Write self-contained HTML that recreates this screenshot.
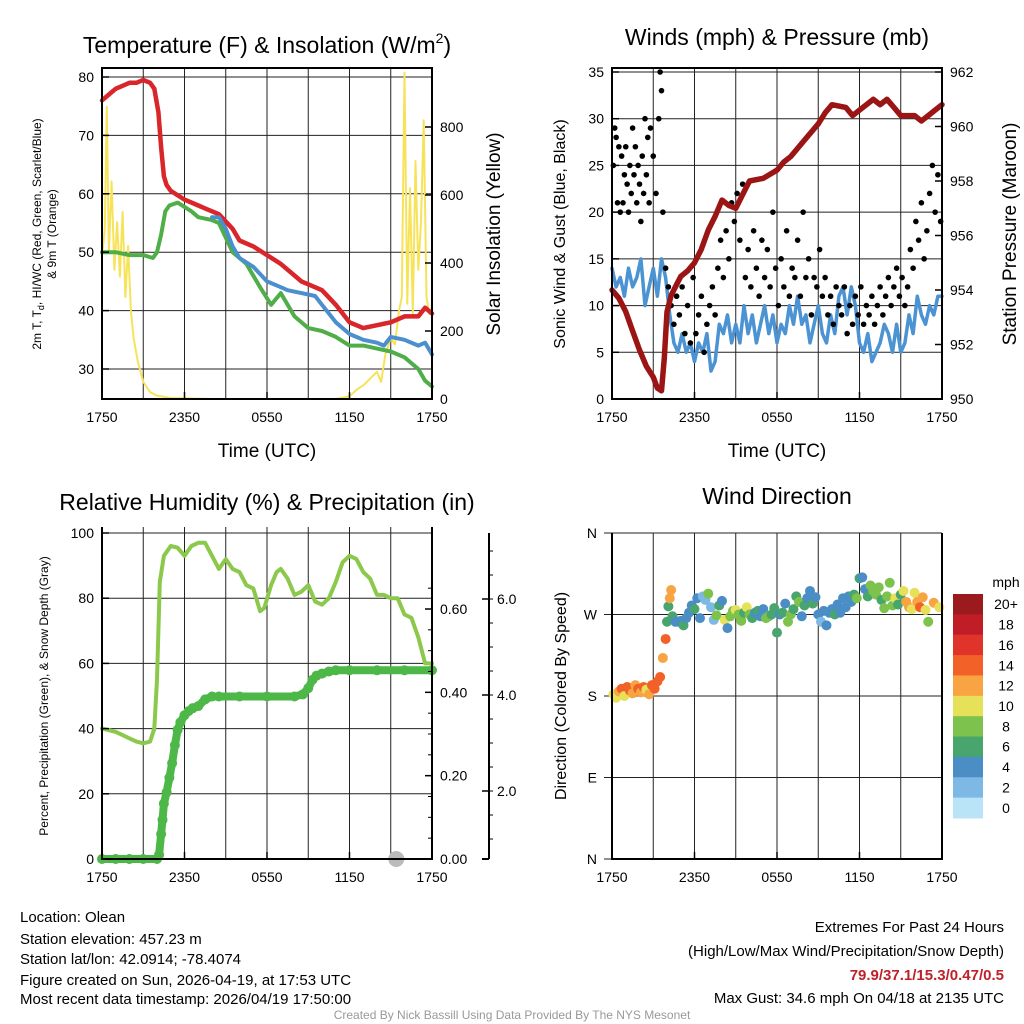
<!DOCTYPE html>
<html><head><meta charset="utf-8"><style>
body{margin:0;background:#fff;}
svg{display:block;font-family:"Liberation Sans",sans-serif;}
</style></head><body>
<svg id="c" width="1024" height="1024" viewBox="0 0 1024 1024" xmlns="http://www.w3.org/2000/svg">
<g id="g"></g>
<g font-size="23" text-anchor="middle">
<text x="267" y="53">Temperature (F) &amp; Insolation (W/m<tspan font-size="14" dy="-10">2</tspan><tspan dy="10">)</tspan></text>
<text x="777" y="45">Winds (mph) &amp; Pressure (mb)</text>
<text x="267" y="510">Relative Humidity (%) &amp; Precipitation (in)</text>
<text x="777" y="504">Wind Direction</text>
</g>
<g font-size="19" text-anchor="middle">
<text x="267" y="457">Time (UTC)</text>
<text x="777" y="457">Time (UTC)</text>
<text transform="translate(500,234) rotate(-90)">Solar Insolation (Yellow)</text>
<text transform="translate(1016,234) rotate(-90)">Station Pressure (Maroon)</text>
</g>
<g font-size="16" text-anchor="middle">
<text transform="translate(565,234) rotate(-90)">Sonic Wind &amp; Gust (Blue, Black)</text>
<text transform="translate(566,696) rotate(-90)">Direction (Colored By Speed)</text>
</g>
<g font-size="12" text-anchor="middle">
<text transform="translate(41,234) rotate(-90)">2m T, T<tspan font-size="9" dy="3">d</tspan><tspan dy="-3">, HI/WC (Red, Green, Scarlet/Blue)</tspan></text>
<text transform="translate(56,234) rotate(-90)">&amp; 9m T (Orange)</text>
<text transform="translate(48,696) rotate(-90)">Percent, Precipitation (Green), &amp; Snow Depth (Gray)</text>
</g>
<g font-size="15">
<text x="20" y="922">Location: Olean</text>
<text x="20" y="944">Station elevation: 457.23 m</text>
<text x="20" y="964">Station lat/lon: 42.0914; -78.4074</text>
<text x="20" y="985">Figure created on Sun, 2026-04-19, at 17:53 UTC</text>
<text x="20" y="1004">Most recent data timestamp: 2026/04/19 17:50:00</text>
<g text-anchor="end">
<text x="1004" y="932">Extremes For Past 24 Hours</text>
<text x="1004" y="956">(High/Low/Max Wind/Precipitation/Snow Depth)</text>
<text x="1004" y="980" fill="#c0202a" font-weight="bold">79.9/37.1/15.3/0.47/0.5</text>
<text x="1004" y="1003">Max Gust: 34.6 mph On 04/18 at 2135 UTC</text>
</g>
<text x="512" y="1019" font-size="12" fill="#999" text-anchor="middle">Created By Nick Bassill Using Data Provided By The NYS Mesonet</text>
</g>
</svg>
<script>
const xTickLabels=["1750","2350","0550","1150","1750"];
// Temperature panel
const tT=[0,0.5,1,1.5,2,2.5,3,3.5,3.8,4.1,4.3,4.5,4.7,5,6,7,7.5,8.5,9.5,10,11,12,13,13.5,14.5,15,16,17,18,19,20,21,22,23,23.5,24];
const tRed=[76,77,78,78.5,79,79,79.5,79,78,74,68,63,61.5,60.5,59,58,57.5,56.5,54,52,51,49.5,48,47,45,44.5,43.5,41,38,37,37.5,38,39,39,40.5,39.5];
const tdT=[0,1,2,3,3.7,4,4.3,4.6,4.9,5.5,6.5,7,8,8.5,9.5,10.5,11.5,12.3,13,14,15,16,17,18,19,20,21,22,23,23.5,24];
const tdGreen=[50,50,49.5,49.5,49,50,53,57,58,58.5,57,56,55.5,55,50,48,44,41,43,39,37,36.5,35.5,34,34,33.5,33,32,30,28,27];
const wcT=[8,8.5,9,9.5,10,11,12,13,13.5,14.5,15.5,16,17,18,19,20,20.5,21,22,23,23.5,24];
const wcBlue=[56,56,54,51,49,47.5,45,44,43.5,43,42.5,41,38,36,35,34.5,34,35.5,35,34,34.5,32.5];
const solT=[0,0.2,0.35,0.5,0.7,0.9,1.1,1.3,1.5,1.7,1.9,2.1,2.3,2.6,3,3.5,4,5,8,12,16,17,18,18.6,19,19.5,20,20.3,20.6,21,21.3,21.6,21.8,22,22.2,22.4,22.6,22.8,23,23.2,23.4,23.6,23.8,24];
const solar=[420,500,860,430,640,380,520,360,550,300,450,260,180,110,50,20,10,3,0,0,0,0,8,30,40,60,80,50,130,180,160,260,300,960,280,620,250,700,380,520,820,300,250,270];
const tempTicks=[30,40,50,60,70,80];
const solarTicks=[0,200,400,600,800];
// Winds panel
const wT=[0,0.3,0.6,0.9,1.2,1.5,1.8,2.1,2.4,2.7,3,3.3,3.6,3.9,4.2,4.5,4.8,5.1,5.4,5.7,6,6.3,6.6,6.9,7.2,7.5,7.8,8.1,8.4,8.7,9,9.3,9.6,9.9,10.2,10.5,10.8,11.1,11.4,11.7,12,12.3,12.6,12.9,13.2,13.5,13.8,14.1,14.4,14.7,15,15.3,15.6,15.9,16.2,16.5,16.8,17.1,17.4,17.7,18,18.3,18.6,18.9,19.2,19.5,19.8,20.1,20.4,20.7,21,21.3,21.6,21.9,22.2,22.5,22.8,23.1,23.4,23.7,24];
const wind=[14,12,13,11,14,12,13,15,10,12,14,11,15,13,9,6,5,7,5,6,4,6,5,7,3,4,8,7,9,6,8,6,10,7,9,6,8,10,7,9,6,8,7,10,8,11,8,9,6,8,10,7,6,9,7,11,12,9,12,10,6,5,7,4,5,6,8,7,5,8,5,6,9,7,11,9,8,10,9,11,11];
const gT=[0.1,0.2,0.3,0.4,0.5,0.6,0.7,0.8,0.9,1.0,1.1,1.2,1.3,1.4,1.5,1.6,1.7,1.8,1.9,2.0,2.1,2.2,2.3,2.4,2.5,2.6,2.7,2.8,3.0,3.2,3.4,3.5,3.6,3.7,3.9,4.1,4.3,4.5,4.7,4.9,5.1,5.3,5.5,5.7,5.9,6.1,6.3,6.5,6.7,6.9,7.1,7.3,7.5,7.7,7.9,8.1,8.3,8.5,8.7,8.9,9.1,9.3,9.5,9.7,9.9,10.1,10.3,10.5,10.7,10.9,11.1,11.3,11.5,11.7,11.9,12.1,12.3,12.5,12.7,12.9,13.1,13.3,13.5,13.7,13.9,14.1,14.3,14.5,14.7,14.9,15.1,15.3,15.5,15.7,15.9,16.1,16.3,16.5,16.7,16.9,17.1,17.3,17.5,17.7,17.9,18.1,18.3,18.5,18.7,18.9,19.1,19.3,19.5,19.7,19.9,20.1,20.3,20.5,20.7,20.9,21.1,21.3,21.5,21.7,21.9,22.1,22.3,22.5,22.7,22.9,23.1,23.3,23.5,23.7,23.9];
const gust=[25,29,28,21,27,20,26,21,24,27,23,20,25,22,29,24,27,21,25,23,19,26,22,30,24,28,21,29,26,22,30,35,33,20,14,12,10,8,11,9,12,7,10,6,13,7,9,11,5,8,10,12,9,14,17,13,18,15,21,19,22,17,23,13,16,12,18,14,11,17,13,16,12,20,14,10,15,12,18,11,14,13,17,11,20,13,15,9,13,12,16,11,13,9,11,8,12,10,9,12,7,10,8,11,9,12,8,10,9,11,8,10,12,9,11,13,10,12,14,11,13,10,12,16,14,19,17,21,15,18,22,25,20,24,19];
const pT=[0,0.5,1,1.5,2,2.5,3,3.3,3.6,3.8,4,4.3,4.7,5,5.5,6,6.5,7,7.5,8,8.5,9,9.5,10,11,12,12.5,13,14,15,15.5,16,17,17.5,18,19,19.5,20,20.5,21,22,22.5,23,23.5,24];
const pres=[954,953.7,953.2,952.5,951.8,951.2,950.8,950.4,950.3,951.5,953.2,953.8,954.2,954.5,954.7,955,955.5,956.2,956.7,957.3,957.1,957,957.5,958,958.1,958.4,958.7,958.9,959.5,960.1,960.5,960.8,960.7,960.4,960.6,961,960.8,961,960.7,960.4,960.4,960.2,960.4,960.6,960.8];
const windTicks=[0,5,10,15,20,25,30,35];
const presTicks=[950,952,954,956,958,960,962];
// RH panel
const rhT=[0,0.5,1,1.5,2,2.5,3,3.5,3.8,4,4.2,4.5,5,5.5,6,6.5,7,7.5,8,8.5,9,9.5,10,10.5,11,11.5,11.8,12.3,12.7,13,13.5,14,14.5,15,15.5,16,16.5,17,17.5,18,18.5,19,19.5,20,20.5,21,21.5,22,22.5,23,23.5,24];
const rh=[40,39.5,39,38,37,36,35.5,36,40,55,85,93,96,95.5,93,96,97,97,93,89,92,89,88,84,83,76,77,84,88,89,86,81,82,84,79,78,80,85,91,93,92,88,86,81,81,80,80,75,74,68,60,60];
const prT=[0,1,2,3,4,4.15,4.3,4.4,4.5,4.7,4.9,5.1,5.3,5.5,5.7,6,6.3,6.6,7,7.5,8,8.5,10,12,14,14.6,15,15.3,15.6,16,16.5,17,18,20,22,24];
const precip=[0,0,0,0,0,0.01,0.06,0.094,0.133,0.16,0.195,0.23,0.273,0.31,0.328,0.345,0.355,0.362,0.367,0.383,0.39,0.39,0.39,0.39,0.39,0.395,0.41,0.43,0.44,0.445,0.45,0.453,0.453,0.453,0.453,0.453];
const snowT=[21.4];
const snow=[0];
const rhTicks=[0,20,40,60,80,100];
const precipTicks=["0.00","0.20","0.40","0.60"];
const snowTicks=["2.0","4.0","6.0"];
// Wind direction panel
const dT=[0.1,0.3,0.5,0.7,0.9,1.1,1.3,1.5,1.7,1.9,2.1,2.3,2.5,2.7,2.9,3.1,3.3,3.5,3.7,3.9,4.0,4.1,4.2,4.3,4.4,4.6,4.8,5.0,5.2,5.4,5.6,5.8,6.0,6.2,6.4,6.6,6.8,7.0,7.2,7.4,7.6,7.8,8.0,8.2,8.4,8.6,8.8,9.0,9.2,9.4,9.6,9.8,10.0,10.2,10.4,10.6,10.8,11.0,11.2,11.4,11.6,11.8,12.0,12.2,12.4,12.6,12.8,13.0,13.2,13.4,13.6,13.8,14.0,14.2,14.4,14.6,14.8,15.0,15.2,15.4,15.6,15.8,16.0,16.2,16.4,16.6,16.8,17.0,17.2,17.4,17.6,17.8,18.0,18.2,18.4,18.6,18.8,19.0,19.2,19.4,19.6,19.8,20.0,20.2,20.4,20.6,20.8,21.0,21.2,21.4,21.6,21.8,22.0,22.2,22.4,22.6,22.8,23.0,23.4,23.8];
const dDeg=[182,178,185,188,180,190,186,183,192,188,184,190,187,182,192,188,196,201,222,243,262,279,288,297,268,262,262,263,258,266,272,280,276,288,266,290,286,293,278,264,269,280,285,264,255,268,274,275,270,263,272,278,270,266,272,274,268,276,266,268,270,277,250,270,272,282,262,270,276,290,284,268,280,288,296,282,289,270,262,274,258,272,276,270,281,272,288,278,290,284,292,288,310,311,298,290,302,296,292,300,286,277,290,305,280,288,281,292,296,284,278,276,294,284,278,289,275,262,283,278];
const dSpd=[10,10,12,14,11,15,14,12,13,15,12,14,10,12,14,15,15,14,12,14,7,7,12,12,6,4,4,5,7,4,4,4,6,4,4,2,2,8,2,2,8,7,4,10,4,8,8,10,8,8,6,10,8,6,4,6,4,4,8,8,6,6,6,4,6,4,8,8,6,6,8,4,6,4,4,6,4,4,2,4,4,4,4,6,4,4,4,4,4,4,6,8,6,4,4,6,8,8,8,8,6,8,8,8,8,10,6,6,10,12,12,10,10,12,14,12,10,8,12,10];
const dirLabels=["N","E","S","W","N"];
const cbLabels=["20+","18","16","14","12","10","8","6","4","2","0"];
const cbColors=["#9b1a1e","#c01d27","#e0342b","#f26128","#f8a443","#e7e159","#7cc24d","#48a56e","#4a8ec5","#7eb9e5","#b9e3f7"];

const NS="http://www.w3.org/2000/svg";
const G=document.getElementById('g');
function el(tag,attrs,parent){const e=document.createElementNS(NS,tag);for(const k in attrs)e.setAttribute(k,attrs[k]);(parent||G).appendChild(e);return e;}
function lin(d0,d1,r0,r1){return v=>r0+(v-d0)*(r1-r0)/(d1-d0);}
function pathD(xs,ys,fx,fy){return xs.map((t,i)=>(i?'L':'M')+fx(t).toFixed(1)+','+fy(ys[i]).toFixed(1)).join('');}
function frame(x0,y0,x1,y1,name){
  const g=el('g',{});
  
  
  for(let h=3;h<24;h+=3){const x=x0+h*(x1-x0)/24;el('line',{x1:x,x2:x,y1:y0,y2:y1,stroke:'#222','stroke-width':1},g);}
  return g;
}
function hline(g,y,x0,x1){el('line',{x1:x0,x2:x1,y1:y,y2:y,stroke:'#222','stroke-width':1},g);}
function border(x0,y0,x1,y1,name){const r=el('rect',{x:x0,y:y0,width:x1-x0,height:y1-y0,fill:'none',stroke:'#000','stroke-width':2});}
function xticks(x0,x1,y,name){
  xTickLabels.forEach((s,i)=>{const x=x0+i*(x1-x0)/4;
    el('line',{x1:x,x2:x,y1:y,y2:y-7,stroke:'#000','stroke-width':1.5});
    const t=el('text',{x:x,y:y+23,'font-size':14,'text-anchor':'middle'});t.textContent=s;
    });
}
function ytick(x,y,s,side,name){
  el('line',{x1:x,x2:x+(side<0?7:-7),y1:y,y2:y,stroke:'#000','stroke-width':1.5});
  const t=el('text',{x:x+(side<0?-8:8),y:y+5,'font-size':14,'text-anchor':side<0?'end':'start'});t.textContent=s;
  
}
function line(xs,ys,fx,fy,color,w,name){const p=el('path',{d:pathD(xs,ys,fx,fy),fill:'none',stroke:color,'stroke-width':w,'stroke-linejoin':'round','stroke-linecap':'round'});return p;}

// ---- Panel 1
{const X0=102,X1=432,Y0=68,Y1=399;
 const fx=lin(0,24,X0,X1),fy=lin(30,80,369,77),fs=lin(0,800,399,127);
 const g=frame(X0,Y0,X1,Y1,'temp');tempTicks.forEach(v=>hline(g,fy(v),X0,X1));
 line(solT,solar,fx,fs,'#f7e35a',2,'solar-line');
 line(tT,tRed,fx,fy,'#d9262a',4.5,'temperature-line');
 line(tdT,tdGreen,fx,fy,'#4fae47',4,'dewpoint-line');
 line(wcT,wcBlue,fx,fy,'#4b8fcf',4,'windchill-line');
 line(tT.filter(t=>t>=17),tRed.filter((v,i)=>tT[i]>=17),fx,fy,'#d9262a',4,'temperature-line-top');
 border(X0,Y0,X1,Y1,'temp');xticks(X0,X1,Y1,'temp');
 tempTicks.forEach(v=>ytick(X0,fy(v),v,-1,'temp-y-tick'));
 solarTicks.forEach(v=>ytick(X1,fs(v),v,1,'solar-y-tick'));}
// ---- Panel 2
{const X0=612,X1=942,Y0=68,Y1=399;
 const fx=lin(0,24,X0,X1),fy=lin(0,35,399,72),fp=lin(950,962,399,72);
 const g=frame(X0,Y0,X1,Y1,'winds');windTicks.forEach(v=>hline(g,fy(v),X0,X1));
 line(wT,wind,fx,fy,'#4b93d2',3.5,'wind-speed-line');
 gT.forEach((t,i)=>{const c=el('circle',{cx:fx(t),cy:fy(gust[i]),r:2.8,fill:'#000'});
   });
 line(pT,pres,fx,fp,'#9b1515',5.5,'pressure-line');
 border(X0,Y0,X1,Y1,'winds');xticks(X0,X1,Y1,'winds');
 windTicks.forEach(v=>ytick(X0,fy(v),v,-1,'wind-y-tick'));
 presTicks.forEach(v=>ytick(X1,fp(v),v,1,'pressure-y-tick'));}
// ---- Panel 3
{const X0=102,X1=432,Y0=527,Y1=859;
 const fx=lin(0,24,X0,X1),fy=lin(0,100,859,533),fpr=lin(0,0.6,859,609),fsn=lin(0,6,887,599);
 const g=frame(X0,Y0,X1,Y1,'rh');rhTicks.forEach(v=>hline(g,fy(v),X0,X1));
 line(rhT,rh,fx,fy,'#8cc84b',4,'rh-line');
 prT.forEach((t,i)=>{const c=el('circle',{cx:fx(t),cy:fpr(precip[i]),r:5,fill:'#4db848'});
   });
 line(prT,precip,fx,fpr,'#4db848',8,'precip-line');
 snowT.forEach((t,i)=>{const c=el('circle',{cx:fx(t),cy:fsn(snow[i])-28,r:8,fill:'#bbb'});
   });
 const bl=el('path',{d:`M${X0},${Y0}V${Y1}H${X1}V${Y0}`,fill:'none',stroke:'#000','stroke-width':2});
 
 xticks(X0,X1,Y1,'rh');
 rhTicks.forEach(v=>ytick(X0,fy(v),v,-1,'rh-y-tick'));
 precipTicks.forEach(v=>ytick(X1,fpr(+v),v,1,'precip-y-tick'));
 for(let v=0.05;v<0.7;v+=0.05)el('line',{x1:X1,x2:X1-4,y1:fpr(v),y2:fpr(v),stroke:'#000'});
 const ax=el('line',{x1:489,x2:489,y1:533,y2:859,stroke:'#000','stroke-width':2});
 
 el('line',{x1:489,x2:482,y1:859,y2:859,stroke:'#000','stroke-width':2});
 for(let v=1;v<=7;v+=0.5){if(fsn(v)>540&&fsn(v)<859)el('line',{x1:489,x2:493,y1:fsn(v),y2:fsn(v),stroke:'#000'});}
 snowTicks.forEach(v=>ytick(489,fsn(+v),v,1,'snow-y-tick'));}
// ---- Panel 4
{const X0=612,X1=942,Y0=533,Y1=859;
 const fx=lin(0,24,X0,X1),fd=lin(0,360,859,533);
 const g=frame(X0,Y0,X1,Y1,'dir');dirLabels.forEach((s,i)=>hline(g,fd(i*90),X0-8,X1));
 dT.forEach((t,i)=>{const k=Math.max(0,Math.min(10,10-Math.floor(dSpd[i]/2)));
   const c=el('circle',{cx:fx(t),cy:fd(dDeg[i]),r:5,fill:cbColors[k]});
   });
 const bl=el('path',{d:`M${X0},${Y0}V${Y1}H${X1}V${Y0}`,fill:'none',stroke:'#000','stroke-width':2});
 
 xticks(X0,X1,Y1,'dir');
 dirLabels.forEach((s,i)=>{const t=el('text',{x:597,y:fd(i*90)+5,'font-size':14,'text-anchor':'end'});t.textContent=s;
   });
 const h=(818-594)/11;
 const u=el('text',{x:1006,y:587,'font-size':14,'text-anchor':'middle'});u.textContent='mph';
 
 cbColors.forEach((c,i)=>{const r=el('rect',{x:953,y:594+i*h,width:30,height:h+0.5,fill:c});
   
   const t=el('text',{x:1006,y:594+i*h+h/2+5,'font-size':14,'text-anchor':'middle'});t.textContent=cbLabels[i];
   });}
</script>
</body></html>
